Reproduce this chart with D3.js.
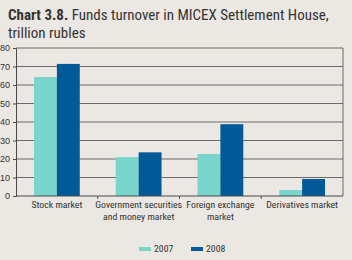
<!doctype html>
<html>
<head>
    <meta charset="utf-8">
    <title>Chart 3.8</title>
    <style>
        body { margin: 0; padding: 0; background: #ebe7e2; }
        svg { display: block; font-family: "Liberation Sans Narrow", "Roboto Condensed", "Liberation Sans", sans-serif; }
    </style>
</head>
<body>
    <svg id="chart" width="352" height="260"></svg>

    <script src="https://d3js.org/d3.v7.min.js"></script>
    <script>
        var categories = [["Stock market"], ["Government securities", "and money market"], ["Foreign exchange", "market"], ["Derivatives market"]];
        var series = ["2007", "2008"];
        var values2007 = [64.3, 21, 22.7, 3.2];
        var values2008 = [71.4, 23.6, 38.8, 9.2];
        var yTicks = [0, 10, 20, 30, 40, 50, 60, 70, 80];
        var colors = ["#79d4cb", "#005a97"];

        var margin = {top: 48, right: 9, bottom: 64, left: 16},
            width = 352 - margin.left - margin.right,
            height = 260 - margin.top - margin.bottom;

        var svg = d3.select("#chart");

        var title = svg.append("text")
            .attr("x", 8)
            .attr("y", 20)
            .style("font-size", "15px")
            .style("fill", "#333");
        title.append("tspan")
            .style("font-weight", "bold")
            .text("Chart 3.8.");
        title.append("tspan")
            .text(" Funds turnover in MICEX Settlement House,");
        svg.append("text")
            .attr("x", 8)
            .attr("y", 38)
            .style("font-size", "15px")
            .style("fill", "#333")
            .text("trillion rubles");

        var g = svg.append("g")
            .attr("transform", "translate(" + margin.left + "," + margin.top + ")");

        var keys = d3.range(categories.length);

        var x = d3.scaleBand()
            .domain(keys)
            .range([0, width])
            .paddingInner(0.44)
            .paddingOuter(0.22);

        var xSub = d3.scaleBand()
            .domain(series)
            .range([0, x.bandwidth()]);

        var y = d3.scaleLinear()
            .domain([0, 80])
            .range([height, 0]);

        // gridlines
        g.selectAll(".grid")
            .data(yTicks.slice(1))
            .enter().append("line")
            .attr("x1", 0)
            .attr("x2", width)
            .attr("y1", function(d) { return y(d); })
            .attr("y2", function(d) { return y(d); })
            .style("stroke", "#4a4a4a")
            .style("stroke-width", 0.8);

        g.append("line")
            .attr("x1", width).attr("x2", width)
            .attr("y1", 0).attr("y2", height)
            .style("stroke", "#4a4a4a")
            .style("stroke-width", 0.8);

        var groups = g.selectAll(".group")
            .data(keys)
            .enter().append("g")
            .attr("transform", function(d) { return "translate(" + x(d) + ",0)"; });

        groups.selectAll("rect")
            .data(function(i) { return [values2007[i], values2008[i]].map(function(v, j) { return {s: series[j], v: v, j: j}; }); })
            .enter().append("rect")
            .attr("x", function(d) { return xSub(d.s); })
            .attr("width", xSub.bandwidth())
            .attr("y", function(d) { return y(d.v); })
            .attr("height", function(d) { return height - y(d.v); })
            .style("fill", function(d) { return colors[d.j]; });

        // y axis
        var yAxis = g.append("g")
            .call(d3.axisLeft(y).tickValues(yTicks).tickSize(3).tickPadding(3));
        yAxis.select(".domain").style("stroke", "#4a4a4a");
        yAxis.selectAll("line").style("stroke", "#4a4a4a");
        yAxis.selectAll("text").style("font-size", "9px").style("fill", "#333").style("font-family", "inherit");

        // x axis
        var xAxisG = g.append("g")
            .attr("transform", "translate(0," + height + ")");
        xAxisG.append("line")
            .attr("x1", 0).attr("x2", width)
            .style("stroke", "#4a4a4a");
        var step = width / categories.length;
        xAxisG.selectAll(".tick")
            .data(d3.range(1, categories.length))
            .enter().append("line")
            .attr("x1", function(d) { return d * step; })
            .attr("x2", function(d) { return d * step; })
            .attr("y1", 0).attr("y2", 3)
            .style("stroke", "#4a4a4a");

        var labels = xAxisG.selectAll(".lbl")
            .data(keys)
            .enter().append("text")
            .attr("x", function(d) { return x(d) + x.bandwidth() / 2; })
            .attr("y", 12)
            .attr("text-anchor", "middle")
            .style("font-size", "9.8px")
            .style("fill", "#333");
        labels.selectAll("tspan")
            .data(function(d) { return categories[d]; })
            .enter().append("tspan")
            .attr("x", function() { return d3.select(this.parentNode).attr("x"); })
            .attr("dy", function(d, i) { return i === 0 ? 0 : 12; })
            .text(function(d) { return d; });

        // legend
        var legend = svg.append("g")
            .attr("transform", "translate(139,252)");
        series.forEach(function(s, i) {
            var lg = legend.append("g").attr("transform", "translate(" + (i * 52) + ",0)");
            lg.append("rect")
                .attr("x", 0).attr("y", -5)
                .attr("width", 12).attr("height", 4)
                .style("fill", colors[i]);
            lg.append("text")
                .attr("x", 15).attr("y", 0)
                .style("font-size", "9.8px")
                .style("fill", "#333")
                .text(s);
        });
    </script>
</body>
</html>
